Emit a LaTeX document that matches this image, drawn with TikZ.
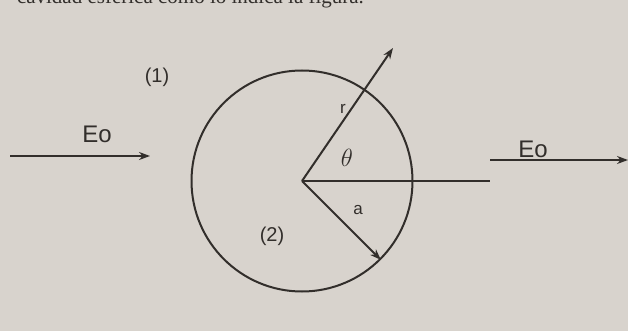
\documentclass[tikz,border=0pt]{standalone}
\usepackage{fontspec}
\setsansfont{Liberation Sans}
\newfontfamily\bookfont{Liberation Serif}
\usetikzlibrary{positioning,arrows.meta}
\definecolor{paper}{RGB}{216,211,205}
\definecolor{ink}{RGB}{50,46,43}

\begin{document}
\begin{tikzpicture}[%
    x=1pt,
    y=-1pt,
    >={Stealth[length=11pt,width=8pt]},
    line width=2pt,
    draw=ink,
    every node/.style={text=ink},
    big/.style={font=\sffamily\fontsize{24}{24}\selectfont},
    tag/.style={font=\sffamily\fontsize{20}{20}\selectfont},
    small/.style={font=\sffamily\fontsize{17}{17}\selectfont}]
    \fill[paper] (0,0) rectangle (628,331);
    \clip (0,0) rectangle (628,331);

    % caption line cut by the page edge
    \node[anchor=base west, inner sep=0, font=\bookfont\fontsize{21}{21}\selectfont] (caption) at (16,4) {cavidad esférica como lo indica la figura.};

    % cavity
    \node[draw=ink, circle, minimum size=221pt, inner sep=0] (cav) at (302,181) {};
    \coordinate (rtip) at (393,48);
    \coordinate (axis) at (490,181);

    \node[tag] (reg_1) at (157,77) {(1)};
    \node[tag] (reg_2) at (272,236) {(2)};
    \node[small] (r_lbl) at (343,109) {r};
    \node[font=\fontsize{25}{25}\selectfont] (theta) at (347,158) {$\theta$};
    \node[small] (a_lbl) at (358,210) {a};

    % applied field
    \coordinate (in_a) at (10,156);
    \coordinate (in_b) at (150,156);
    \coordinate (out_a) at (490,160);
    \coordinate (out_b) at (628,160);
    \node[big] (eo_in) at (97,134) {Eo};
    \node[big] (eo_out) at (533,149) {Eo};

    \path[->]
              (in_a) edge (in_b)
              (out_a) edge (out_b)
              (cav.center) edge (rtip)
              (cav.center) edge (cav.-45);
    \draw (cav.center) -- (axis);
\end{tikzpicture}
\end{document}
